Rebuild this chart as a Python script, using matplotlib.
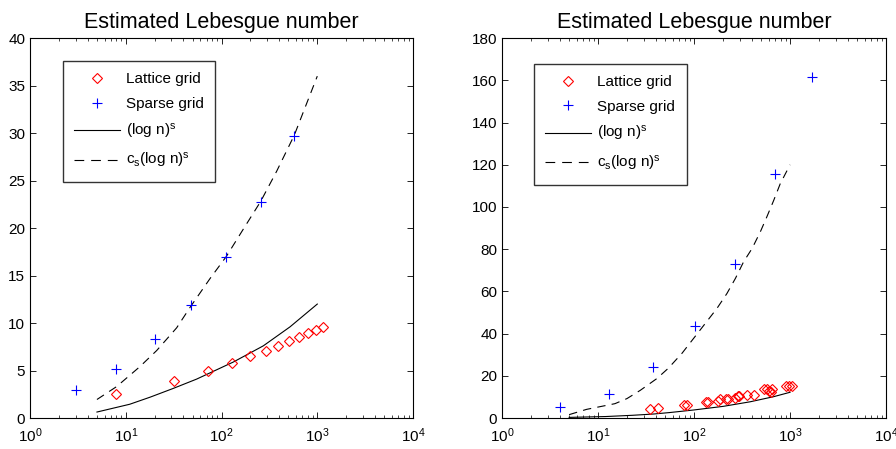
import matplotlib
matplotlib.use('Agg')
import matplotlib.pyplot as plt
from matplotlib.lines import Line2D
from matplotlib.ticker import LogLocator, NullFormatter

plt.rcParams['font.family'] = ['Liberation Sans', 'DejaVu Sans']
plt.rcParams['mathtext.fontset'] = 'custom'
plt.rcParams['mathtext.rm'] = 'Liberation Sans'
plt.rcParams['mathtext.it'] = 'Liberation Sans:italic'
plt.rcParams['lines.scale_dashes'] = False

# ---- left panel (s = 2) ----
lat2_n = [8, 32, 72, 128, 200, 288, 392, 512, 648, 800, 968, 1152]
lat2_val = [2.5, 3.9, 5.0, 5.8, 6.5, 7.1, 7.6, 8.1, 8.5, 8.95, 9.3, 9.6]
sp2_n = [3, 8, 20, 48, 112, 256, 576]
sp2_val = [3.0, 5.2, 8.3, 11.9, 17.0, 22.8, 29.7]
sol2_n = [5, 11, 18, 31, 55, 133, 273, 519, 1000]
sol2_val = [0.63, 1.45, 2.2, 3.1, 4.1, 5.9, 7.6, 9.6, 12.0]
das2_n = [5, 8, 14, 21, 34, 48, 76, 112, 169, 256, 377, 576, 1000]
das2_val = [1.95, 3.3, 5.4, 7.1, 9.5, 11.8, 14.7, 17.0, 19.9, 22.8, 26.0, 29.8, 36.0]

# ---- right panel (s = 3) ----
lat3_n = [35, 42, 78, 84, 133, 141, 176, 185, 217, 224, 265, 284, 294, 356, 417,
          540, 576, 603, 634, 654, 908, 984, 1048]
lat3_val = [4.5, 4.9, 6.3, 6.3, 7.4, 7.8, 8.2, 8.9, 9.0, 9.0, 9.7, 10.2, 10.4, 10.9, 11.1,
            13.6, 13.8, 12.8, 12.2, 13.9, 15.4, 15.0, 15.0]
sp3_n = [4, 13, 37, 103, 269, 692, 1710]
sp3_val = [5.1, 11.6, 24.1, 43.7, 72.9, 115.8, 161.5]
sol3_n = [5, 12, 23, 38, 56, 99, 203, 385, 673, 1000]
sol3_val = [0.3, 0.7, 1.3, 1.9, 2.6, 3.8, 5.55, 7.7, 10.1, 12.2]
das3_n = [5, 7.6, 15, 20, 27.5, 41, 54, 75, 173, 220, 270, 328, 403, 491, 574, 674, 790, 1000]
das3_val = [1.6, 4.1, 6.8, 9.2, 13.1, 18.7, 23.6, 30.7, 51.9, 59, 66.2, 74, 80.4, 88.3,
            95.4, 103, 111, 120]

fig = plt.figure(figsize=(8.96, 4.49), dpi=100)
ax1 = fig.add_axes([0.0335, 0.069, 0.4275, 0.846])
ax2 = fig.add_axes([0.5603, 0.069, 0.4286, 0.846])

panels = [
    (ax1, lat2_n, lat2_val, sp2_n, sp2_val, sol2_n, sol2_val, das2_n, das2_val, 40, 5, (0.085, 0.94)),
    (ax2, lat3_n, lat3_val, sp3_n, sp3_val, sol3_n, sol3_val, das3_n, das3_val, 180, 20, (0.083, 0.933)),
]

for ax, ln, lv, sn, sv, qn, qv, dn, dv, ymax, ystep, leg_pos in panels:
    ax.plot(qn, qv, color='black', lw=0.8)
    ax.plot(dn, dv, color='black', lw=0.8, linestyle=(0, (6, 4.5)))
    ax.plot(ln, lv, linestyle='none', marker='D', ms=5, mfc='none', mec='red', mew=0.8)
    ax.plot(sn, sv, linestyle='none', marker='+', ms=7, mec='blue', mew=0.8)

    ax.set_xscale('log')
    ax.set_xlim(1, 1e4)
    ax.set_ylim(0, ymax)
    ax.set_yticks(range(0, ymax + 1, ystep))
    ax.xaxis.set_major_locator(LogLocator(base=10, numticks=10))
    ax.xaxis.set_minor_locator(LogLocator(base=10, subs=range(2, 10), numticks=20))
    ax.xaxis.set_minor_formatter(NullFormatter())
    ax.tick_params(which='both', direction='in', top=True, right=True, labelsize=11)
    ax.tick_params(which='major', length=4, width=0.6)
    ax.tick_params(which='minor', length=2, width=0.5)
    ax.tick_params(axis='x', which='major', pad=6)
    for sp in ax.spines.values():
        sp.set_linewidth(0.8)
    ax.set_title('Estimated Lebesgue number', fontsize=15.5, pad=7)

    handles = [
        Line2D([], [], linestyle='none', marker='D', ms=5, mfc='none', mec='red', mew=0.8),
        Line2D([], [], linestyle='none', marker='+', ms=7, mec='blue', mew=0.8),
        Line2D([], [], color='black', lw=0.8),
        Line2D([], [], color='black', lw=0.8, linestyle=(0, (7, 5))),
    ]
    labels = ['Lattice grid', 'Sparse grid', r'(log n)$^{\mathrm{s}}$', r'c$_{\mathrm{s}}$(log n)$^{\mathrm{s}}$']
    leg = ax.legend(handles, labels, loc='upper left', bbox_to_anchor=leg_pos,
                    fontsize=11, frameon=True, fancybox=False, handlelength=3.0,
                    handletextpad=0.4, labelspacing=0.7, borderpad=0.75, borderaxespad=0)
    leg.get_frame().set_edgecolor('black')
    leg.get_frame().set_linewidth(1.0)

fig.savefig('out.png', dpi=100)
